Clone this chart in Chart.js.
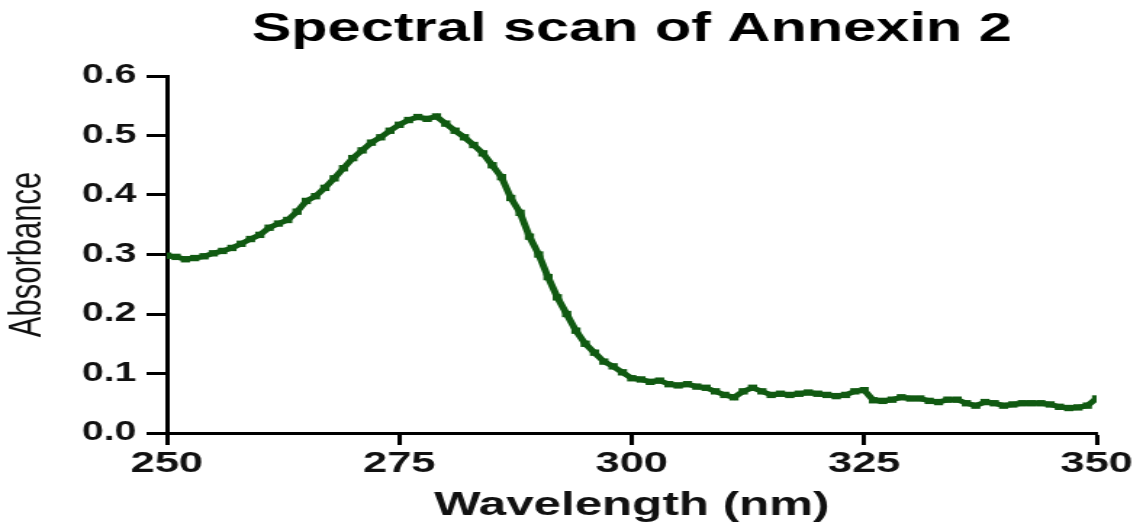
<!DOCTYPE html>
<html>
<head>
<meta charset="utf-8">
<title>Spectral scan of Annexin 2</title>
<script src="https://cdn.jsdelivr.net/npm/chart.js@4/dist/chart.umd.min.js"></script>
<style>
    html, body { margin: 0; padding: 0; background: #fff; }
    #spectrumChart { display: block; }
</style>
</head>
<body>
<!-- the original figure is a stretched export, so the canvas is drawn narrow and widened by its inline style -->
<canvas id="spectrumChart" width="788" height="531" style="width:1143px;height:531px"></canvas>
<script>
// ===================== Data =====================
const startWavelength = 250;
const absorbance = [
    0.298, 0.296, 0.292, 0.294, 0.297, 0.302, 0.306, 0.311, 0.318, 0.326,
    0.333, 0.345, 0.352, 0.358, 0.372, 0.390, 0.398, 0.412, 0.428, 0.445,
    0.462, 0.475, 0.488, 0.497, 0.508, 0.518, 0.526, 0.531, 0.528, 0.532,
    0.520, 0.508, 0.497, 0.484, 0.470, 0.450, 0.430, 0.395, 0.370, 0.330,
    0.300, 0.262, 0.228, 0.200, 0.172, 0.150, 0.135, 0.120, 0.112, 0.102,
    0.092, 0.090, 0.086, 0.088, 0.082, 0.080, 0.082, 0.078, 0.076, 0.070,
    0.064, 0.060, 0.070, 0.076, 0.070, 0.064, 0.066, 0.064, 0.066, 0.068,
    0.066, 0.064, 0.062, 0.064, 0.070, 0.072, 0.055, 0.054, 0.056, 0.060,
    0.058, 0.058, 0.054, 0.052, 0.056, 0.056, 0.050, 0.046, 0.052, 0.050,
    0.046, 0.048, 0.050, 0.050, 0.050, 0.048, 0.044, 0.042, 0.043, 0.046,
    0.058
];
const wavelengths = absorbance.map((_, i) => startWavelength + i);
const xTicks = [250, 275, 300, 325, 350];
const yTicks = [0.0, 0.1, 0.2, 0.3, 0.4, 0.5, 0.6];

const lineColor = '#115a12';
const fontFamily = '"Liberation Sans", Arial, sans-serif';

// ===================== Chart =====================
const ctx = document.getElementById('spectrumChart').getContext('2d');

const spectrumChart = new Chart(ctx, {
    type: 'line',
    data: {
        datasets: [{
            label: 'Annexin 2',
            data: wavelengths.map((w, i) => ({ x: w, y: absorbance[i] })),
            borderColor: lineColor,
            backgroundColor: lineColor,
            borderWidth: 5,
            pointStyle: 'rect',
            pointRadius: 4.5,
            pointBorderWidth: 0,
            tension: 0
        }]
    },
    options: {
        responsive: false,
        animation: false,
        layout: { padding: { left: 0, right: 32, top: 0, bottom: 0 } },
        plugins: {
            legend: { display: false },
            tooltip: { enabled: false },
            title: {
                display: true,
                fullSize: false,
                text: 'Spectral scan of Annexin 2',
                color: '#000',
                font: { family: fontFamily, size: 41, weight: 'bold', lineHeight: 1.2 },
                padding: { top: 5, bottom: 21.8 }
            }
        },
        scales: {
            x: {
                type: 'linear',
                min: 250,
                max: 350,
                afterBuildTicks: scale => {
                    scale.ticks = xTicks.map(v => ({ value: v }));
                },
                afterFit: scale => { scale.height = 98; },
                border: { display: true, color: '#000', width: 3 },
                grid: {
                    drawOnChartArea: false,
                    drawTicks: true,
                    tickLength: 12,
                    tickWidth: 3,
                    tickColor: '#000'
                },
                ticks: {
                    color: '#111',
                    padding: 1,
                    maxRotation: 0,
                    font: { family: fontFamily, size: 30, weight: 'bold' }
                },
                title: {
                    display: true,
                    text: 'Wavelength (nm)',
                    color: '#111',
                    font: { family: fontFamily, size: 34, weight: 'bold', lineHeight: 1.2 },
                    padding: { top: 0, bottom: 5 }
                }
            },
            y: {
                min: 0,
                max: 0.6,
                afterBuildTicks: scale => {
                    scale.ticks = yTicks.map(v => ({ value: v }));
                },
                afterFit: scale => { scale.width = 115; },
                border: { display: true, color: '#000', width: 3 },
                grid: {
                    drawOnChartArea: false,
                    drawTicks: true,
                    tickLength: 14,
                    tickWidth: 3,
                    tickColor: '#000'
                },
                ticks: {
                    color: '#111',
                    padding: 7,
                    font: { family: fontFamily, size: 27, weight: 'bold' },
                    callback: value => Number(value).toFixed(1)
                },
                title: {
                    display: true,
                    text: 'Absorbance',
                    color: '#111',
                    font: { family: fontFamily, size: 31, weight: 'normal', lineHeight: 1.2 },
                    padding: { top: 1, bottom: 0 }
                }
            }
        }
    }
});
</script>
</body>
</html>
